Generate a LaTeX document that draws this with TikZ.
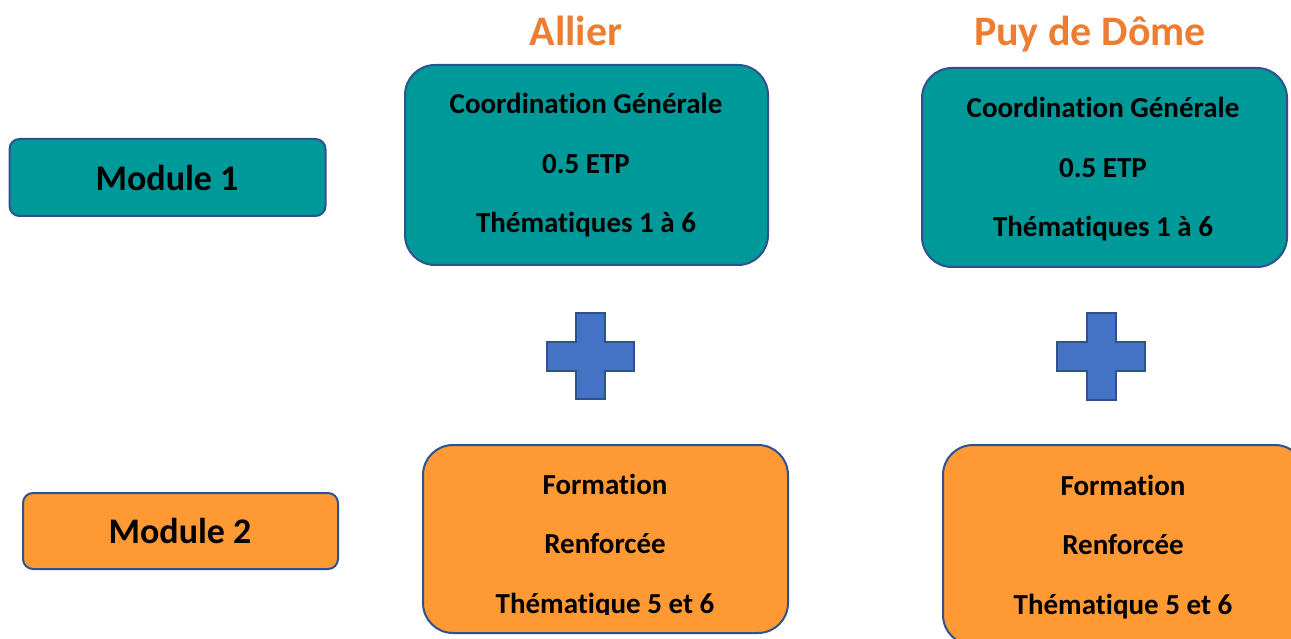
\documentclass[tikz,border=0pt]{standalone}
\usepackage{fontspec}
\setmainfont{Carlito}[Ligatures=NoCommon, Contextuals=NoAlternate, RawFeature={-liga;-dlig}]
\definecolor{tealfill}{RGB}{0,153,153}
\definecolor{orangefill}{RGB}{255,153,51}
\definecolor{edgeblue}{RGB}{47,82,143}
\definecolor{plusblue}{RGB}{68,114,196}
\definecolor{titleorange}{RGB}{237,125,49}
\tikzset{
  bigbox/.style={draw=edgeblue, line width=2pt, rounded corners=30pt, inner sep=0pt},
  modbox/.style={draw=edgeblue, line width=2pt, rounded corners=10pt, inner sep=0pt},
  tealbox/.style={fill=tealfill},
  orangebox/.style={fill=orangefill},
  boxtext/.style={anchor=base, inner sep=0pt, font=\bfseries\fontsize{29}{35}\selectfont},
  modtext/.style={anchor=base, inner sep=0pt, font=\bfseries\fontsize{36}{43}\selectfont},
  titletext/.style={anchor=base, inner sep=0pt, text=titleorange, font=\bfseries\fontsize{42}{50}\selectfont},
  plusshape/.style={fill=plusblue, draw=edgeblue, line width=2.5pt, line join=miter}
}
\begin{document}
\begin{tikzpicture}[x=1pt,y=-1pt]
\useasboundingbox (0,0) rectangle (1291,639);
\clip (0,0) rectangle (1291,639);
% titles
\node[titletext] (tallier) at (576,46) {Allier};
\node[titletext] (tpuy) at (1090,46) {Puy de Dôme};
% module boxes
\node[modbox, tealbox, minimum width=316pt, minimum height=77pt] (m1) at (167.5,177.5) {};
\node[modtext] (m1t) at (167,191) {Module 1};
\node[modbox, orangebox, minimum width=315pt, minimum height=76pt] (m2) at (180.5,531) {};
\node[modtext] (m2t) at (180,543) {Module 2};
% teal boxes
\node[bigbox, tealbox, minimum width=363pt, minimum height=200pt] (ta) at (586.5,165) {};
\node[boxtext] (ta1) at (586,114) {Coordination Générale};
\node[boxtext] (ta2) at (586,174) {0.5 ETP};
\node[boxtext] (ta3) at (586,233) {Thématiques 1 à 6};
\node[bigbox, tealbox, minimum width=365pt, minimum height=199pt] (tp) at (1104.5,167.5) {};
\node[boxtext] (tp1) at (1103,118) {Coordination Générale};
\node[boxtext] (tp2) at (1103,178) {0.5 ETP};
\node[boxtext] (tp3) at (1103,237) {Thématiques 1 à 6};
% plus signs
\draw[plusshape] (576,313) -- (605,313) -- (605,342) -- (634,342) -- (634,371) -- (605,371) -- (605,399) -- (576,399) -- (576,371) -- (547,371) -- (547,342) -- (576,342) -- cycle;
\draw[plusshape] (1087,313) -- (1116,313) -- (1116,342) -- (1145,342) -- (1145,371) -- (1116,371) -- (1116,400) -- (1087,400) -- (1087,371) -- (1057,371) -- (1057,342) -- (1087,342) -- cycle;
% orange boxes
\node[bigbox, orangebox, minimum width=365pt, minimum height=188pt] (oa) at (605.5,539) {};
\node[boxtext] (oa1) at (605,494) {Formation};
\node[boxtext] (oa2) at (605,553) {Renforcée};
\begin{scope}
\clip (423,445) rectangle (788,614);
\node[boxtext] (oa3) at (605,613) {Thématique 5 et 6};
\end{scope}
\node[bigbox, orangebox, minimum width=362pt, minimum height=200pt] (op) at (1124,545) {};
\node[boxtext] (op1) at (1123,495) {Formation};
\node[boxtext] (op2) at (1123,554) {Renforcée};
\node[boxtext] (op3) at (1123,614) {Thématique 5 et 6};
\end{tikzpicture}
\end{document}
